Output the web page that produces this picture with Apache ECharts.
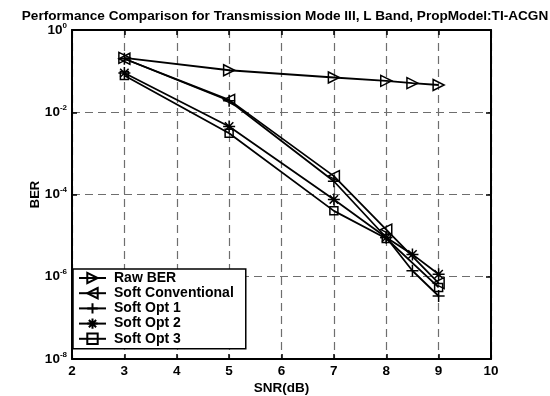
<!DOCTYPE html>
<html>
<head>
<meta charset="utf-8">
<script src="https://cdn.jsdelivr.net/npm/echarts@6/dist/echarts.min.js"></script>
<style>
  html, body { margin: 0; padding: 0; background: #fff; }
  #chart { width: 550px; height: 396px; }
</style>
</head>
<body>
<div id="chart"></div>
<script>
// values
const snrRaw = [3, 5, 7, 8, 8.5, 9];
const berRaw = [0.21, 0.105, 0.07, 0.058, 0.051, 0.046];
const snrConv = [3, 5, 7, 8, 9];
const berConv = [0.2, 0.02, 2.8e-4, 1.4e-5, 7e-7];
const snrOpt1 = [3, 5, 7, 8, 8.5, 9];
const berOpt1 = [0.2, 0.019, 2.1e-4, 9e-6, 1.4e-6, 3.4e-7];
const snrOpt2 = [3, 5, 7, 8, 8.5, 9];
const berOpt2 = [0.09, 0.0045, 7.6e-5, 9e-6, 3.5e-6, 1.15e-6];
const snrOpt3 = [3, 5, 7, 8, 9];
const berOpt3 = [0.078, 0.0031, 4e-5, 8.5e-6, 5.5e-7];

const names = ['Raw BER', 'Soft Conventional', 'Soft Opt 1', 'Soft Opt 2', 'Soft Opt 3'];

const FONT = '"Liberation Sans", Arial, sans-serif';

const symbols = {
    triRight: 'path://M0,0L10,5L0,10Z',
    triLeft: 'path://M10,0L0,5L10,10Z',
    plus: 'path://M5,0L5,10M0,5L10,5',
    star: 'path://M5,0L5,10M0,5L10,5M1.5,1.5L8.5,8.5M8.5,1.5L1.5,8.5',
    square: 'path://M0,0L10,0L10,10L0,10Z'
};

function pairs(xs, ys) {
    return xs.map((x, i) => [x, ys[i]]);
}

function mkSeries(name, xs, ys, symbol, size) {
    return {
        name: name,
        type: 'line',
        data: pairs(xs, ys),
        symbol: symbol,
        symbolSize: size,
        showAllSymbol: true,
        lineStyle: { color: '#000', width: 1.8 },
        itemStyle: { color: 'transparent', borderColor: '#000', borderWidth: 1.5 },
        emphasis: { disabled: true },
        animation: false
    };
}

let chart = echarts.init(document.getElementById('chart'));

let option = {
    animation: false,
    title: {
        text: 'Performance Comparison for Transmission Mode III, L Band, PropModel:TI-ACGN',
        left: 280,
        textAlign: 'center',
        top: 4,
        textStyle: { fontFamily: FONT, fontWeight: 'bold', fontSize: 13.6, color: '#000' }
    },
    legend: {
        orient: 'vertical',
        left: 73,
        top: 269,
        padding: [2, 12, 3, 5],
        itemGap: 1.2,
        itemWidth: 27,
        itemHeight: 13,
        backgroundColor: '#fff',
        borderColor: '#000',
        borderWidth: 1.5,
        textStyle: { fontFamily: FONT, fontWeight: 'bold', fontSize: 14, lineHeight: 14, color: '#000', padding: [0, 0, 0, 3] },
        data: names
    },
    grid: { left: 72, right: 59, top: 30, bottom: 37, containLabel: false, outerBoundsMode: 'none' },
    xAxis: [{
        type: 'value',
        min: 2,
        max: 10,
        interval: 1,
        name: 'SNR(dB)',
        nameLocation: 'middle',
        nameGap: 22,
        nameMoveOverlap: false,
        nameTextStyle: { fontFamily: FONT, fontWeight: 'bold', fontSize: 13.5, color: '#000' },
        axisLine: { lineStyle: { color: '#000', width: 2 } },
        axisTick: { inside: true, length: 5, lineStyle: { color: '#000', width: 1.5 } },
        axisLabel: { fontFamily: FONT, fontWeight: 'bold', fontSize: 13.5, color: '#000', margin: 5 },
        splitLine: { show: true, lineStyle: { color: '#6e6e6e', width: 1.2, type: [8, 5] } }
    }, {
        type: 'value',
        position: 'top',
        min: 2,
        max: 10,
        interval: 1,
        axisLine: { lineStyle: { color: '#000', width: 2 } },
        axisTick: { inside: true, length: 5, lineStyle: { color: '#000', width: 1.5 } },
        axisLabel: { show: false },
        splitLine: { show: false }
    }],
    yAxis: [{
        type: 'log',
        logBase: 10,
        min: 1e-8,
        max: 1,
        interval: 2,
        name: 'BER',
        nameLocation: 'middle',
        nameGap: 30,
        nameMoveOverlap: false,
        nameTextStyle: { fontFamily: FONT, fontWeight: 'bold', fontSize: 13, color: '#000' },
        axisLine: { show: true, lineStyle: { color: '#000', width: 2 } },
        axisTick: { inside: true, length: 5, lineStyle: { color: '#000', width: 1.5 } },
        axisLabel: {
            margin: 5,
            formatter: function (v) {
                let e = Math.round(Math.log10(v));
                return '{b|10}{e|' + e + '}';
            },
            rich: {
                b: { fontFamily: FONT, fontWeight: 'bold', fontSize: 13.5, color: '#000' },
                e: { fontFamily: FONT, fontWeight: 'bold', fontSize: 8, color: '#000', verticalAlign: 'top', padding: [0, 0, 9, 0] }
            }
        },
        splitLine: { show: true, lineStyle: { color: '#6e6e6e', width: 1.2, type: [8, 5] } }
    }, {
        type: 'log',
        logBase: 10,
        position: 'right',
        min: 1e-8,
        max: 1,
        interval: 2,
        axisLine: { show: true, lineStyle: { color: '#000', width: 2 } },
        axisTick: { inside: true, length: 5, lineStyle: { color: '#000', width: 1.5 } },
        axisLabel: { show: false },
        splitLine: { show: false }
    }],
    series: [
        mkSeries(names[0], snrRaw, berRaw, symbols.triRight, 11),
        mkSeries(names[1], snrConv, berConv, symbols.triLeft, 11),
        mkSeries(names[2], snrOpt1, berOpt1, symbols.plus, 12),
        mkSeries(names[3], snrOpt2, berOpt2, symbols.star, 12),
        mkSeries(names[4], snrOpt3, berOpt3, symbols.square, 8)
    ]
};

chart.setOption(option);
</script>
</body>
</html>
